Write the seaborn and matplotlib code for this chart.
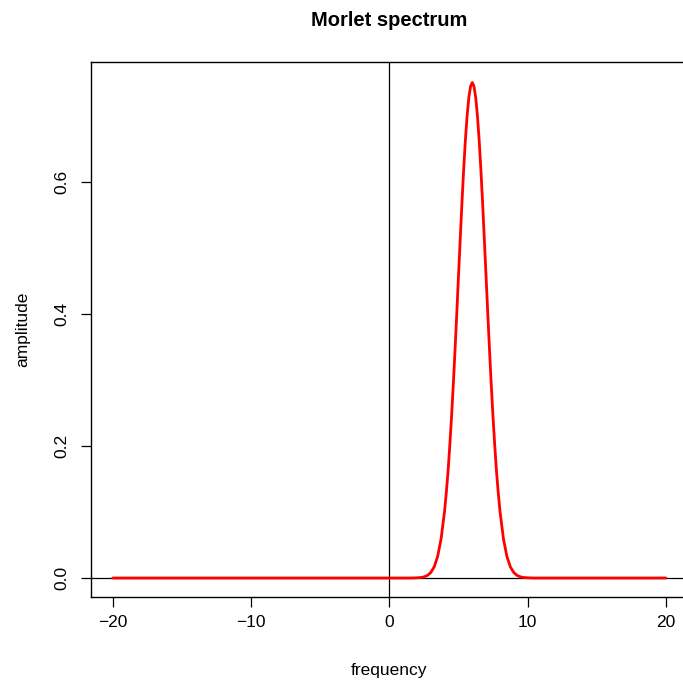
import matplotlib
matplotlib.use("Agg")
import matplotlib.pyplot as plt
import seaborn as sns
import pandas as pd

# Values
frequency = [-20.0, -10.0, 0.0, 1.5, 2.0, 2.25, 2.5, 2.75, 3.0, 3.25, 3.5, 3.75, 4.0,
             4.125, 4.25, 4.375, 4.5, 4.625, 4.75, 4.875, 5.0, 5.125, 5.25, 5.375, 5.5,
             5.625, 5.75, 5.875, 6.0, 6.125, 6.25, 6.375, 6.5, 6.625, 6.75, 6.875, 7.0,
             7.125, 7.25, 7.375, 7.5, 7.625, 7.75, 7.875, 8.0,
             8.25, 8.5, 8.75, 9.0, 9.25, 9.5, 9.75, 10.0,
             10.5, 15.0, 20.0]
amplitude = [0.0, 0.0, 0.0, 0.0, 0.0003, 0.0007, 0.0016, 0.0038, 0.0083, 0.017, 0.033, 0.060, 0.102,
             0.130, 0.162, 0.201, 0.244, 0.292, 0.344, 0.399, 0.456, 0.512, 0.567, 0.618, 0.663,
             0.700, 0.728, 0.745, 0.751, 0.745, 0.728, 0.700, 0.663, 0.618, 0.567, 0.512, 0.456,
             0.399, 0.344, 0.292, 0.244, 0.201, 0.162, 0.130, 0.102,
             0.060, 0.033, 0.017, 0.0083, 0.0038, 0.0016, 0.0007, 0.0003,
             0.0, 0.0, 0.0]
x_ticks = [-20, -10, 0, 10, 20]
y_ticks = [0.0, 0.2, 0.4, 0.6]
y_ticklabels = ["0.0", "0.2", "0.4", "0.6"]

sns.set_style("white")
plt.rcParams['font.family'] = ['Liberation Sans', 'DejaVu Sans']
plt.rcParams['text.color'] = 'black'
plt.rcParams['axes.labelcolor'] = 'black'

df = pd.DataFrame({"frequency": frequency, "amplitude": amplitude})

fig = plt.figure(figsize=(6.83, 6.83), dpi=100)
ax = fig.add_axes([90.6 / 683, 1 - 597 / 683, (688 - 90.6) / 683, (597 - 62) / 683])

sns.lineplot(data=df, x="frequency", y="amplitude", ax=ax, color="#ff0000",
             linewidth=2.0, zorder=3, estimator=None, sort=False)
ax.axhline(0, color="black", linewidth=0.9, zorder=2)
ax.axvline(0, color="black", linewidth=0.9, zorder=2)

ax.set_xlim(-21.6, 21.6)
ax.set_ylim(-0.0288, 0.782)
ax.set_xticks(x_ticks)
ax.set_xticklabels([str(t).replace("-", "\u2212") for t in x_ticks])
ax.set_yticks(y_ticks)
ax.set_yticklabels(y_ticklabels, rotation=90, va="center")

for s in ax.spines.values():
    s.set_color("black")
    s.set_linewidth(1.0)

ax.tick_params(axis="both", direction="out", length=7, width=0.9, color="black",
               labelsize=12.5, labelcolor="black", bottom=True, left=True, pad=6)
ax.tick_params(axis="y", pad=8)

ax.set_xlabel("frequency", fontsize=12.5, labelpad=24, color="black")
ax.set_ylabel("amplitude", fontsize=12.5, labelpad=18, color="black")
fig.text(389 / 683, 1 - 20 / 683, "Morlet spectrum", ha="center", va="center",
         fontsize=14.5, fontweight="bold", color="black")

fig.savefig("out.png", dpi=100)
